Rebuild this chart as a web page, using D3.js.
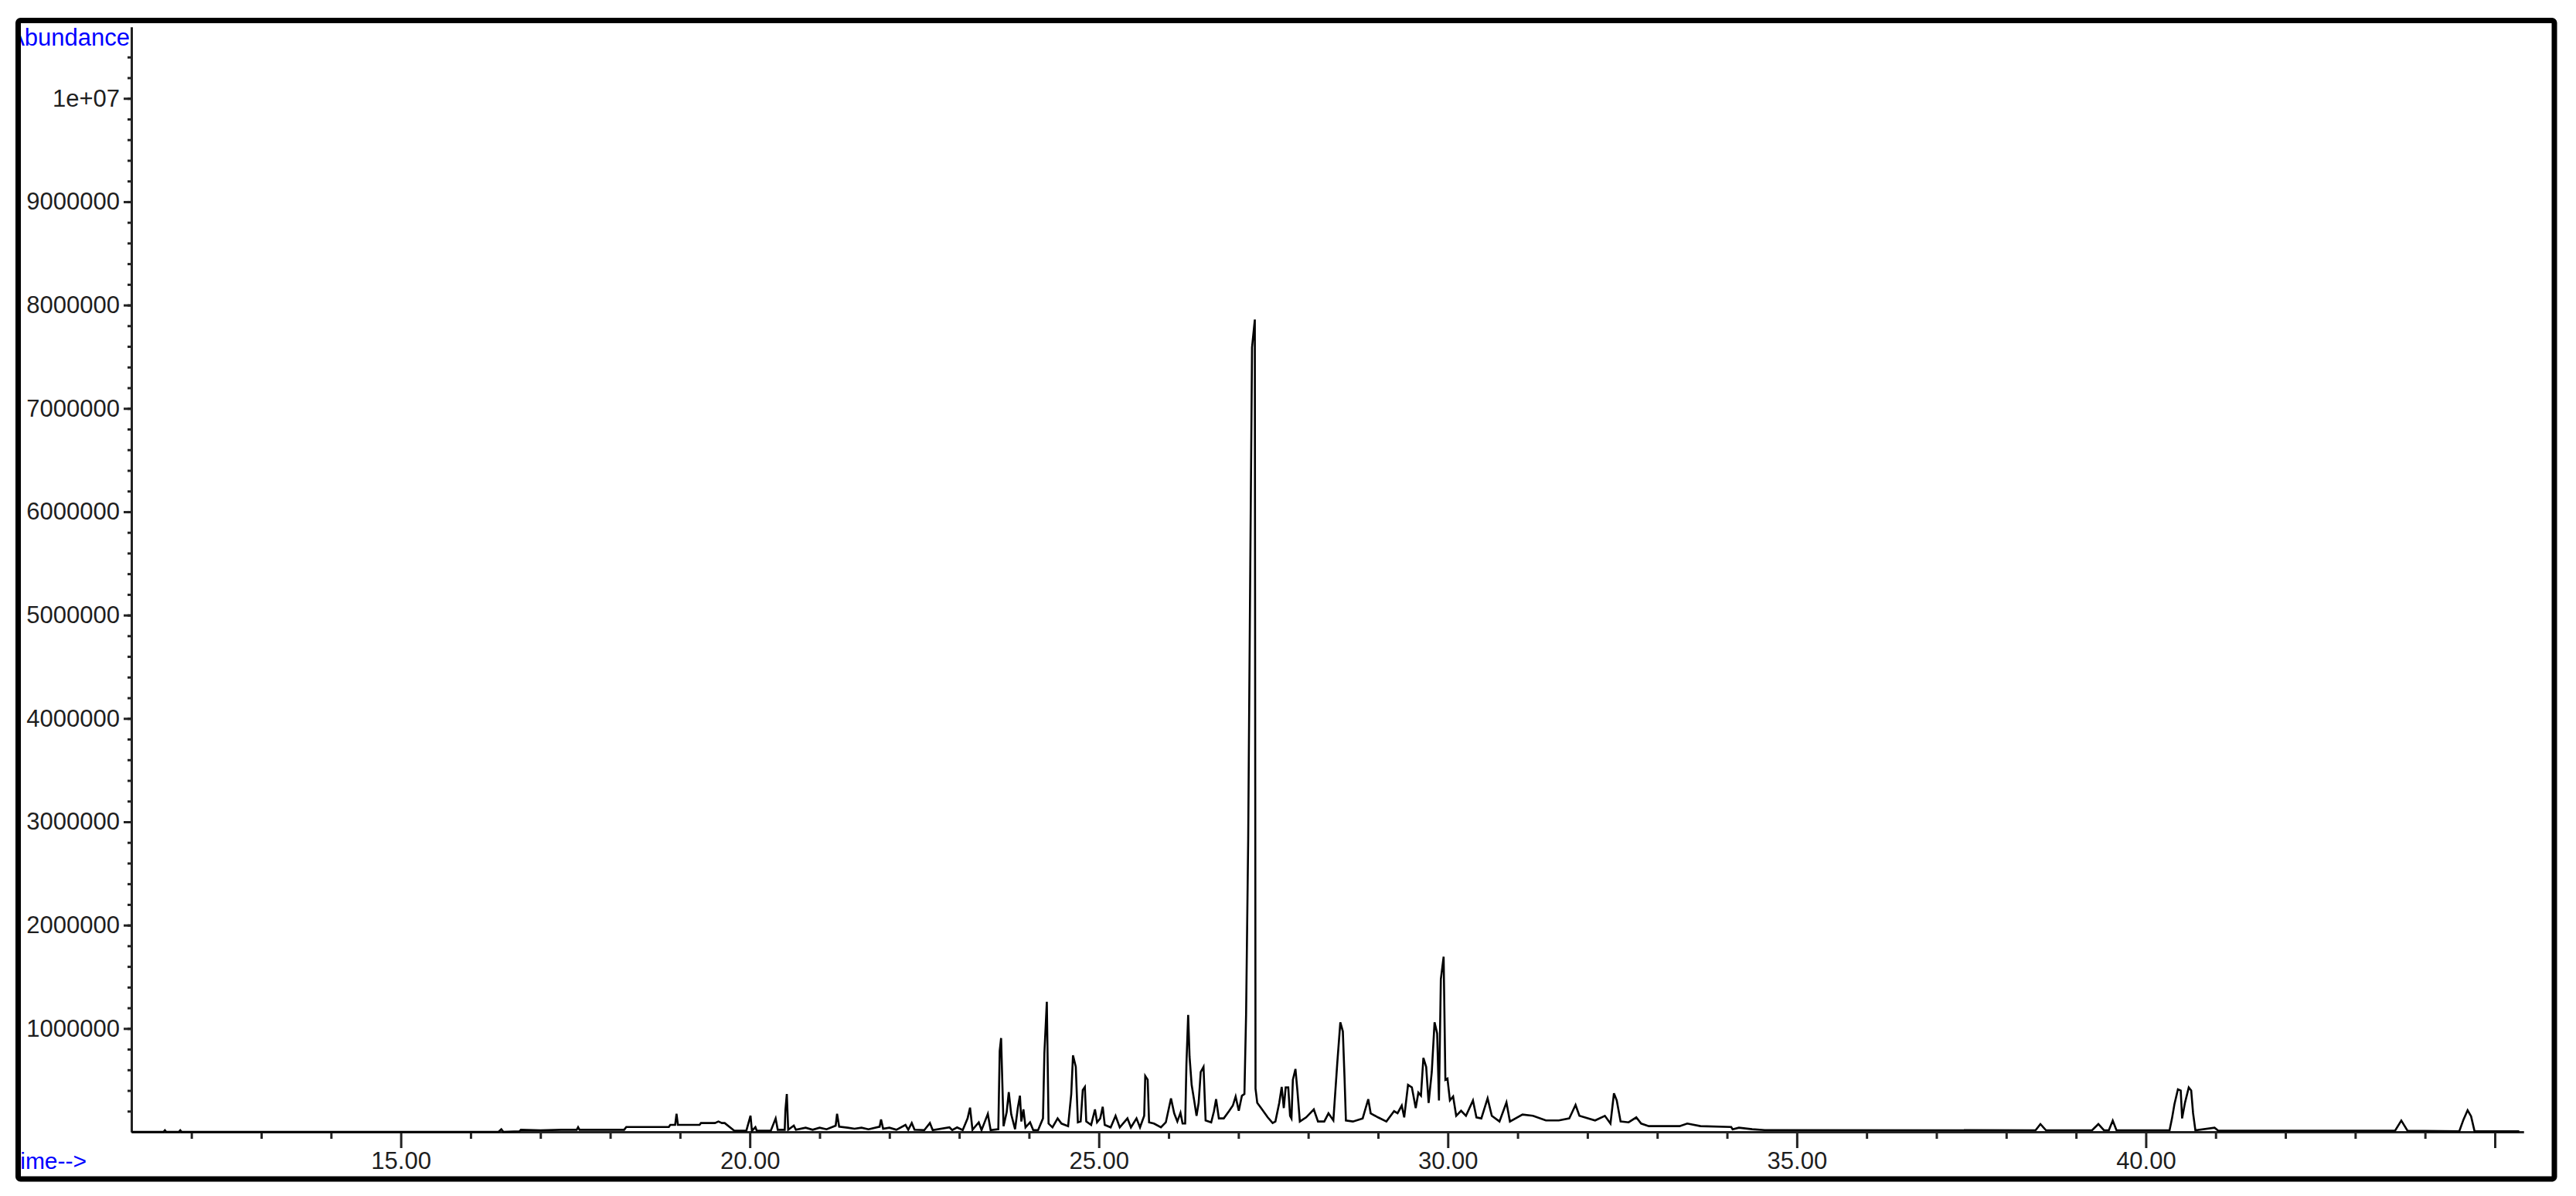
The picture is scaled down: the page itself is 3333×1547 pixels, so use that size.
<!DOCTYPE html>
<html>
<head>
<meta charset="utf-8">
<script src="https://cdn.jsdelivr.net/npm/d3@7"></script>
<style>
  body { margin: 0; background: #fff; }
  svg { display: block; }
  text { font-family: "Liberation Sans", Arial, sans-serif; }
</style>
</head>
<body>
<div id="chart"></div>
<script>
// TIC trace, [retention time (min), abundance]
const earlyTrace = [
  [11.15, 0], [11.60, 0], [11.62, 15000], [11.64, 0], [11.82, 0], [11.84, 15000], [11.86, 0],
  [16.40, 0], [16.44, 25000], [16.47, 0], [16.70, 5000], [16.72, 20000], [17.00, 15000],
  [17.30, 20000], [17.52, 20000], [17.54, 45000], [17.56, 20000], [17.90, 20000], [18.20, 20000],
  [18.23, 47000], [18.84, 47000], [18.86, 67000], [18.93, 67000], [18.95, 174000], [18.97, 67000],
  [19.28, 67000], [19.30, 85000], [19.50, 85000], [19.55, 100000], [19.60, 85000], [19.64, 85000],
  [19.78, 10000], [19.95, 10000], [20.01, 157000], [20.03, 10000], [20.08, 45000], [20.10, 10000],
  [20.30, 10000], [20.37, 130000], [20.40, 20000], [20.50, 20000], [20.51, 210000], [20.53, 366000],
  [20.55, 20000], [20.63, 60000], [20.66, 20000], [20.80, 40000], [20.90, 20000], [21.00, 40000],
  [21.10, 25000], [21.23, 60000], [21.25, 174000], [21.28, 50000], [21.40, 40000], [21.50, 30000],
  [21.60, 40000], [21.70, 25000], [21.86, 50000], [21.88, 120000], [21.91, 30000], [22.00, 40000],
  [22.10, 20000]
];

const midTrace = [
  [22.23, 67000], [22.27, 20000], [22.32, 85000], [22.36, 20000], [22.50, 17000], [22.58, 85000],
  [22.62, 17000], [22.86, 43000], [22.90, 17000], [22.97, 43000], [23.05, 17000], [23.12, 130000],
  [23.155, 234000], [23.19, 20000], [23.28, 92000], [23.32, 17000], [23.41, 174000], [23.45, 17000],
  [23.56, 25000], [23.58, 783000], [23.60, 907000], [23.635, 55000], [23.68, 190000], [23.71, 384000],
  [23.745, 170000], [23.80, 25000], [23.84, 234000], [23.87, 349000], [23.89, 100000], [23.92, 217000],
  [23.95, 43000], [24.015, 92000], [24.06, 17000], [24.13, 17000], [24.20, 130000], [24.22, 758000],
  [24.255, 1259000], [24.28, 80000], [24.336, 43000], [24.41, 130000], [24.465, 80000], [24.56, 55000],
  [24.605, 366000], [24.63, 740000], [24.67, 628000], [24.70, 92000], [24.74, 100000], [24.77, 404000],
  [24.80, 434000], [24.82, 100000], [24.89, 67000], [24.945, 217000], [24.975, 92000], [25.02, 130000],
  [25.056, 242000], [25.085, 67000], [25.17, 43000], [25.24, 155000], [25.30, 43000], [25.41, 130000],
  [25.46, 43000], [25.54, 130000], [25.59, 43000], [25.65, 155000], [25.665, 541000], [25.70, 504000],
  [25.72, 92000], [25.79, 80000], [25.89, 43000], [25.96, 92000], [26.00, 217000], [26.034, 324000],
  [26.08, 179000], [26.125, 100000], [26.17, 184000], [26.20, 80000], [26.237, 80000], [26.255, 653000],
  [26.28, 1132000], [26.30, 728000], [26.33, 454000], [26.366, 304000], [26.40, 155000], [26.43, 280000],
  [26.46, 578000], [26.50, 628000], [26.53, 110000], [26.61, 92000], [26.65, 200000], [26.68, 316000],
  [26.72, 130000], [26.79, 130000], [26.865, 200000], [26.92, 254000], [26.96, 342000], [27.005, 204000],
  [27.05, 349000], [27.086, 366000]
];

const mainPeak = [
  [27.11, 1139000], [27.14, 2830000], [27.165, 5050000], [27.195, 7590000], [27.235, 7860000],
  [27.245, 417000], [27.27, 280000], [27.325, 230000], [27.42, 140000], [27.49, 85000], [27.53, 100000]
];

const lateTrace = [
  [27.585, 280000], [27.62, 434000], [27.65, 230000], [27.677, 430000], [27.714, 430000], [27.74, 155000],
  [27.76, 130000], [27.78, 504000], [27.817, 608000], [27.846, 391000], [27.88, 100000], [27.97, 140000],
  [28.08, 217000], [28.14, 100000], [28.23, 100000], [28.29, 179000], [28.36, 110000], [28.415, 653000],
  [28.46, 1060000], [28.496, 972000], [28.52, 528000], [28.54, 110000], [28.64, 100000], [28.78, 130000],
  [28.86, 316000], [28.895, 179000], [29.00, 140000], [29.12, 100000], [29.23, 200000], [29.28, 180000],
  [29.34, 254000], [29.375, 140000], [29.43, 454000], [29.485, 430000], [29.54, 230000], [29.578, 380000],
  [29.615, 350000], [29.65, 716000], [29.69, 628000], [29.725, 280000], [29.77, 578000], [29.81, 1060000],
  [29.847, 952000], [29.873, 304000], [29.90, 1476000], [29.94, 1695000], [29.965, 504000], [29.995, 516000],
  [30.03, 304000], [30.076, 342000], [30.12, 155000], [30.19, 204000], [30.26, 155000], [30.36, 304000],
  [30.41, 140000], [30.48, 130000], [30.57, 324000], [30.63, 155000], [30.74, 100000], [30.84, 284000],
  [30.89, 100000], [31.07, 167000], [31.22, 155000], [31.405, 110000], [31.59, 110000], [31.74, 130000],
  [31.83, 260000], [31.885, 155000], [32.11, 110000], [32.25, 155000], [32.33, 80000], [32.38, 372000],
  [32.42, 304000], [32.475, 100000], [32.59, 92000], [32.70, 140000], [32.77, 80000], [32.88, 55000],
  [33.32, 55000], [33.43, 80000], [33.62, 55000], [34.06, 47000], [34.08, 25000], [34.17, 40000],
  [34.36, 25000], [34.54, 17000]
];

const tailTrace = [
  [38.42, 15000], [38.49, 75000], [38.57, 15000], [39.23, 15000], [39.32, 75000], [39.40, 15000],
  [39.47, 15000], [39.526, 109000], [39.58, 15000], [40.34, 15000], [40.375, 130000], [40.41, 267000],
  [40.46, 411000], [40.50, 400000], [40.52, 130000], [40.56, 279000], [40.615, 429000], [40.65, 400000],
  [40.677, 180000], [40.71, 15000], [40.985, 40000], [41.04, 10000], [43.57, 10000], [43.66, 109000],
  [43.75, 10000], [44.49, 5000], [44.55, 117000], [44.61, 209000], [44.66, 150000], [44.71, 5000],
  [45.35, 5000]
];

const yTicks = [1000000, 2000000, 3000000, 4000000, 5000000, 6000000, 7000000, 8000000, 9000000, 10000000];
const yTickLabels = ["1000000", "2000000", "3000000", "4000000", "5000000", "6000000", "7000000", "8000000", "9000000", "1e+07"];
const xTicks = [15, 20, 25, 30, 35, 40, 45];
const xTickLabels = ["15.00", "20.00", "25.00", "30.00", "35.00", "40.00", ""];

const W = 3333, H = 1547;
const trace = [].concat(earlyTrace, midTrace, mainPeak, lateTrace, tailTrace);

const svg = d3.select("#chart").append("svg")
    .attr("width", W)
    .attr("height", H);

svg.append("defs").append("clipPath").attr("id", "inner")
    .append("rect").attr("x", 27).attr("y", 30).attr("width", 3275).attr("height", 1492);

const x = d3.scaleLinear().domain([11.14, 45.41]).range([170, 3265]);
const y = d3.scaleLinear().domain([0, 10690000]).range([1464, 35]);

// minor ticks
svg.append("g")
    .attr("class", "axis")
    .attr("transform", "translate(170,0)")
    .call(d3.axisLeft(y).tickValues(d3.range(200000, 10500000, 200000)).tickSize(5).tickSizeOuter(0).tickFormat(""));

svg.append("g")
    .attr("class", "axis")
    .attr("transform", "translate(0,1464)")
    .call(d3.axisBottom(x).tickValues(d3.range(12, 46).filter(d => d % 5 != 0)).tickSize(9).tickSizeOuter(0).tickFormat(""));

// major ticks + labels
svg.append("g")
    .attr("class", "axis")
    .attr("transform", "translate(170,0)")
    .call(d3.axisLeft(y).tickValues(yTicks).tickSize(10).tickPadding(5).tickSizeOuter(0)
        .tickFormat((d, i) => yTickLabels[i]));

svg.append("g")
    .attr("class", "axis")
    .attr("transform", "translate(0,1464)")
    .call(d3.axisBottom(x).tickValues(xTicks).tickSize(21).tickPadding(5).tickSizeOuter(0)
        .tickFormat((d, i) => xTickLabels[i]));

svg.selectAll(".axis path, .axis line").attr("stroke", "#222").attr("stroke-width", 3);
svg.selectAll(".axis text").attr("font-size", 31).attr("fill", "#1e1e1e")
    .attr("font-family", "'Liberation Sans', Arial, sans-serif");

// chromatogram
const line = d3.line().x(d => x(d[0])).y(d => y(d[1]));
svg.append("path")
    .datum(trace)
    .attr("fill", "none")
    .attr("stroke", "#000")
    .attr("stroke-width", 2.6)
    .attr("stroke-linejoin", "miter")
    .attr("d", line);

// corner labels (cut off by the frame, like the original)
const lbl = svg.append("g").attr("clip-path", "url(#inner)");
lbl.append("text")
    .attr("x", 168).attr("y", 59)
    .attr("text-anchor", "end")
    .attr("font-size", 31)
    .attr("fill", "#0000ff")
    .text("Abundance");
lbl.append("text")
    .attr("x", 9).attr("y", 1512)
    .attr("font-size", 30)
    .attr("fill", "#0000ff")
    .text("Time-->");

// frame
svg.append("rect")
    .attr("x", 23.5).attr("y", 26.5)
    .attr("width", 3281.5).attr("height", 1498.5)
    .attr("rx", 3)
    .attr("fill", "none")
    .attr("stroke", "#000")
    .attr("stroke-width", 7);
</script>
</body>
</html>
